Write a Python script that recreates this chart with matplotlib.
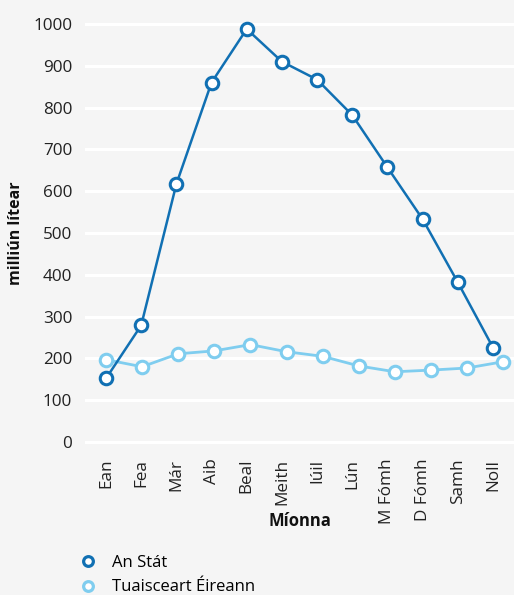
import matplotlib
matplotlib.use("Agg")
import matplotlib.pyplot as plt
from matplotlib.lines import Line2D

months = ["Ean", "Fea", "Már", "Aib", "Beal", "Meith", "Iúil", "Lún", "M Fómh", "D Fómh", "Samh", "Noll"]
an_stat = [152, 279, 617, 860, 988, 910, 867, 782, 657, 533, 382, 226]
tuaisceart = [197, 180, 211, 218, 233, 216, 205, 182, 168, 172, 177, 192]
y_ticks = [0, 100, 200, 300, 400, 500, 600, 700, 800, 900, 1000]

series_names = ["An Stát", "Tuaisceart Éireann"]
dark = "#1170b3"
light = "#7fcdef"
text_col = "#222222"

plt.rcParams['font.family'] = ['Open Sans', 'DejaVu Sans']

fig = plt.figure(figsize=(5.14, 5.95), dpi=100)
fig.patch.set_facecolor("#f5f5f5")
ax = fig.add_axes([86/514, (595-442)/595, 1 - 86/514, (442-24)/595])

x = list(range(len(months)))
ax.set_xlim(-20/35.18, 408/35.18)
ax.set_ylim(0, 1000)

# light series on twin x axis (slightly different spacing as in reference)
ax2 = ax.twiny()
ax2.set_xlim(-20/36.1, 408/36.1)
ax2.set_ylim(0, 1000)
ax2.axis("off")
ax2.patch.set_visible(True)
ax2.patch.set_facecolor("#eaf1f5")
for yv in y_ticks:
    ax2.axhline(yv, color="white", lw=2.2, zorder=1, clip_on=False)
ax2.plot(x, tuaisceart, color=light, lw=2, marker="o", ms=9, mfc="white",
         mec=light, mew=2.2, zorder=3, clip_on=False)

ax.plot(x, an_stat, color=dark, lw=1.8, marker="o", ms=9, mfc="white",
        mec=dark, mew=2.2, zorder=4, clip_on=False)
ax.set_zorder(ax2.get_zorder() + 1)
ax.patch.set_visible(False)

ax.set_yticks(y_ticks)
ax.set_yticklabels([str(v) for v in y_ticks], fontsize=12.3, color=text_col)
ax.set_xticks(x)
ax.set_xticklabels(months, rotation=90, fontsize=12.3, color=text_col)
ax.tick_params(axis="y", length=0, pad=10)
ax.tick_params(axis="x", length=0, pad=12)
for s in ax.spines.values():
    s.set_visible(False)
for s in ax2.spines.values():
    s.set_visible(False)

ax.set_ylabel("milliún lítear", fontsize=11.5, fontweight="bold", color="#111111")
ax.yaxis.set_label_coords(-(86 - 24) / 428, 0.5)
ax.set_xlabel("Míonna", fontsize=12, fontweight="bold", color="#111111")
ax.xaxis.set_label_coords(0.5, -(512 - 442) / 418)

handles = [
    Line2D([], [], ls="none", marker="o", ms=7, mfc="white", mec=dark, mew=2.3),
    Line2D([], [], ls="none", marker="o", ms=7, mfc="white", mec=light, mew=2.3),
]
fig.legend(handles, series_names, loc="upper left", bbox_to_anchor=(80/514, 1 - 555/595),
           frameon=False, fontsize=12, handlelength=1.0, handletextpad=0.9,
           labelspacing=0.5, borderaxespad=0, borderpad=0)

fig.savefig("out.png", dpi=100, facecolor=fig.get_facecolor())
